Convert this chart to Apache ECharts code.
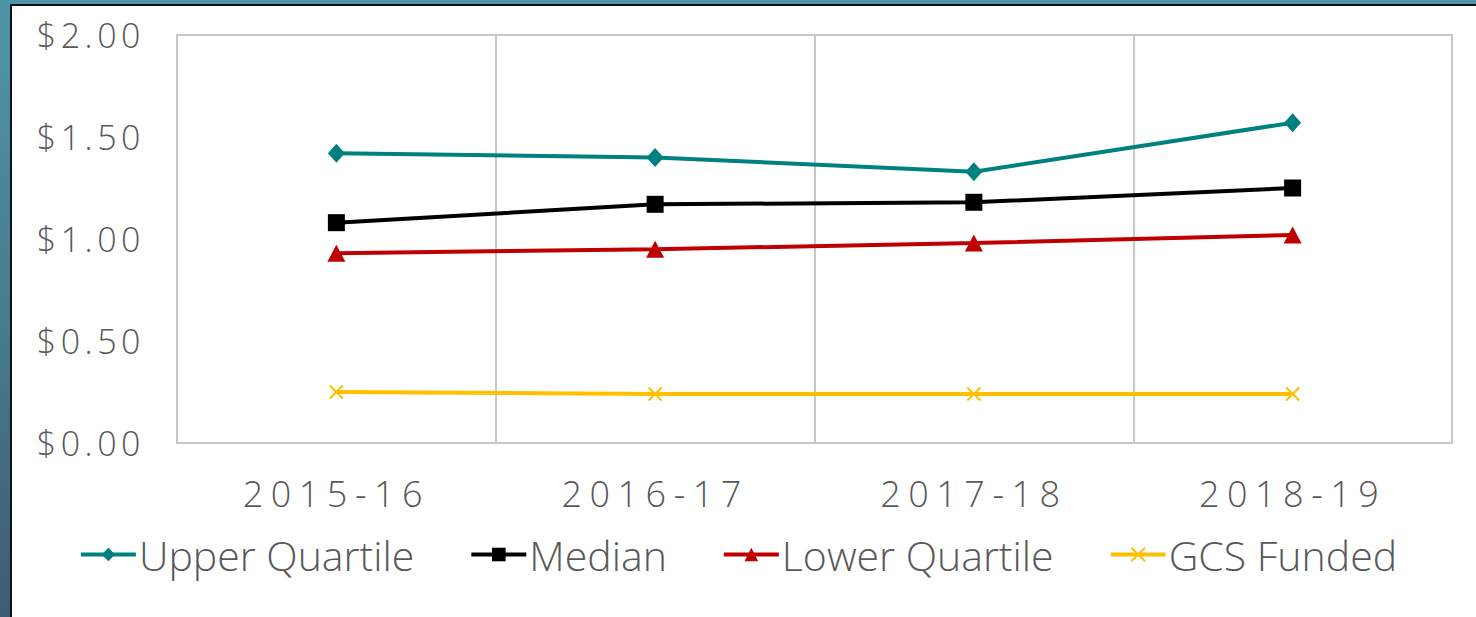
<!DOCTYPE html>
<html>
<head>
<meta charset="utf-8">
<script src="https://cdn.jsdelivr.net/npm/echarts@6/dist/echarts.min.js"></script>
<style>
  html, body { margin: 0; padding: 0; width: 1476px; height: 617px; overflow: hidden; }
  body { background: linear-gradient(180deg, #4f95a8 0%, #487c93 50%, #3f5b72 100%); position: relative; }
  #frame { position: absolute; left: 10px; top: 4px; width: 1470px; height: 620px; background: #fff; border-left: 2px solid #111; border-top: 2px solid #111; }
  #chart { position: absolute; left: 0; top: 0; width: 1476px; height: 617px; }
</style>
</head>
<body>
<div id="frame"></div>
<div id="chart"></div>
<script>
const categories = ['2015-16', '2016-17', '2017-18', '2018-19'];
const upperQuartile = [1.42, 1.40, 1.33, 1.57];
const median = [1.08, 1.17, 1.18, 1.25];
const lowerQuartile = [0.93, 0.95, 0.98, 1.02];
const gcsFunded = [0.25, 0.24, 0.24, 0.24];
const yTicks = [0, 0.5, 1.0, 1.5, 2.0];

const FONT = '"Open Sans", Lato, sans-serif';
const TXT = '#595959';

const chart = echarts.init(document.getElementById('chart'), null, { renderer: 'svg' });
chart.setOption({
  backgroundColor: 'transparent',
  animation: false,
  grid: { left: 177, right: 24, top: 35, bottom: 174, show: true, borderColor: '#c8c8c8', borderWidth: 2, backgroundColor: 'transparent' },
  legend: {
    left: 'center', top: 529,
    itemWidth: 55, itemHeight: 17, itemGap: 55,
    lineStyle: { width: 4 },
    textStyle: { fontFamily: FONT, fontWeight: 300, fontSize: 41, color: TXT, padding: [0, 0, 0, -2] },
    data: ['Upper Quartile', 'Median', 'Lower Quartile', 'GCS Funded']
  },
  xAxis: {
    type: 'category', data: categories, boundaryGap: true,
    axisLine: { show: true, lineStyle: { color: '#c8c8c8', width: 2 } },
    axisTick: { show: false },
    splitLine: { show: true, interval: 0, lineStyle: { color: '#c8c8c8', width: 2 } },
    axisLabel: { fontFamily: FONT, fontWeight: 300, fontSize: 36, color: TXT, margin: 32 }
  },
  yAxis: {
    type: 'value', min: 0, max: 2, interval: 0.5,
    axisLine: { show: false }, axisTick: { show: false },
    splitLine: { show: false },
    axisLabel: { fontFamily: FONT, fontWeight: 300, fontSize: 34, color: TXT, margin: 32,
      formatter: v => '$' + v.toFixed(2) }
  },
  series: [
    { name: 'Upper Quartile', type: 'line', data: upperQuartile, symbol: 'diamond', symbolSize: [17, 19],
      lineStyle: { color: '#00807f', width: 4 }, itemStyle: { color: '#00807f' } },
    { name: 'Median', type: 'line', data: median, symbol: 'rect', symbolSize: 17,
      lineStyle: { color: '#000000', width: 4 }, itemStyle: { color: '#000000' } },
    { name: 'Lower Quartile', type: 'line', data: lowerQuartile, symbol: 'triangle', symbolSize: [18, 17],
      lineStyle: { color: '#c00000', width: 4 }, itemStyle: { color: '#c00000' } },
    { name: 'GCS Funded', type: 'line', data: gcsFunded, symbol: 'path://M0,0L10,10M10,0L0,10', symbolSize: 13,
      lineStyle: { color: '#ffc000', width: 4 }, itemStyle: { color: '#ffc000', borderColor: '#ffc000', borderWidth: 2 } }
  ]
});

// widen tick label tracking to match the reference typography
function track() {
  document.querySelectorAll('#chart svg text').forEach(t => {
    const s = t.textContent;
    if (/^\d{4}-\d{2}$/.test(s)) t.setAttribute('letter-spacing', '7.5');
    else if (s.charAt(0) === '$') t.setAttribute('letter-spacing', '4.5');
  });
}
track();
chart.on('finished', track);
</script>
</body>
</html>
